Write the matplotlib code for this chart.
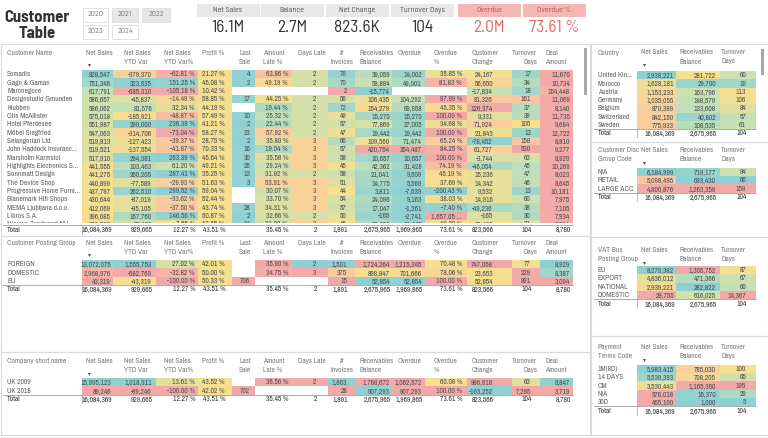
import numpy as np
import matplotlib
matplotlib.use("Agg")
import matplotlib.pyplot as plt
from matplotlib.patches import Rectangle
from matplotlib.colors import LinearSegmentedColormap, Normalize, TwoSlopeNorm
from matplotlib.transforms import Bbox, TransformedBbox

TABLE_FONT = ['Archivo Narrow', 'Liberation Sans Narrow', 'Lato', 'DejaVu Sans']
HEAD_FONT = ['Barlow Semi Condensed', 'Archivo Narrow', 'Lato', 'DejaVu Sans']
plt.rcParams['font.family'] = TABLE_FONT

# ---------------------------------------------------------------- data
years = ['2020', '2021', '2022', '2023', '2024']
years_selected = ['2021', '2022']

kpi_labels = ['Net Sales', 'Balance', 'Net Change', 'Turnover Days', 'Overdue', 'Overdue %']
kpi_values = ['16.1M', '2.7M', '823.6K', '104', '2.0M', '73.61 %']
kpi_alert = [False, False, False, False, True, True]

main_headers = ['Net Sales', 'Net Sales\nYTD Var', 'Net Sales\nYTD Var%', 'Profit %', 'Last\nSale',
                'Amount\nLate %', 'Days Late', '#\nInvoices', 'Receivables\nBalance', 'Overdue',
                'Overdue\n%', 'Customer\nChange', 'Turnover\nDays', 'Deal\nAmount']
main_kinds = ['int', 'int', 'pct', 'pct', 'int', 'pct', 'int', 'int', 'int', 'int', 'pct', 'int', 'int', 'int']

cust_names = ['Somadis', 'Gagn & Gaman', 'Maronegoce', 'Designstudio Gmunden', 'Klubben',
              'Otis McAllister', 'Hotel Pferdesee', 'Möbel Siegfried', 'Selangorian Ltd.',
              'John Haddock Insuranc...', 'Marsholm Karmstol', 'Highlights Electronics S...',
              'Sonnmatt Design', 'The Device Shop', 'Progressive Home Furni...', 'Blanemark Hifi Shops',
              'MEMA Ljubljana d.o.o.', 'Libros S.A.', 'Nieuwe Zandpoort NV']
cust_net_sales = [828547, 751346, 617791, 586657, 586062, 575018, 551987, 547063, 519813, 519521,
                  517910, 441555, 441275, 440899, 437797, 430644, 412069, 396685, 389512]
cust_ytd_var = [-379370, 323535, -685310, -45837, 81576, -185921, 299000, -314706, -127423, -137554,
                294381, 103463, 260205, -77589, 262510, -87019, -95105, 167760, 27331]
cust_ytd_var_pct = [-62.81, 151.25, -105.18, -14.49, 32.34, -48.87, 236.38, -73.04, -39.37, -41.87,
                    263.39, 61.20, 287.41, -29.93, 299.52, -33.62, -37.50, 146.56, 7.55]
cust_profit_pct = [21.27, 45.08, 10.42, 58.85, 44.19, 57.49, 41.21, 58.27, 28.75, 70.33,
                   45.64, 49.21, 35.25, 51.63, 59.04, 52.44, 43.74, 50.87, 43.65]
cust_last_sale = [4, 2, None, 17, None, 10, 2, 23, 2, 16, 30, 25, 13, 3, None, None, 28, 2, 14]
cust_amount_late_pct = [63.86, 49.19, None, 44.25, 19.44, 25.32, 22.44, 57.92, 35.80, 19.04,
                        35.58, 29.24, 31.92, 53.91, 30.07, 33.70, 34.31, 32.66, 31.28]
cust_days_late = [2, 2, None, 2, 2, 2, 2, 2, 3, 3, 3, 3, 2, 3, 3, 3, 3, 2, 3]
cust_invoices = [76, 70, 2, 56, 72, 49, 57, 47, 66, 57, 58, 45, 58, 51, 44, 54, 57, 50, 45]
cust_receivables = [39059, 59884, -15774, 106435, 154279, 15270, 77869, 19442, 109560, 420754,
                    10657, 42362, 21041, 14775, 3811, 24096, 17047, -165, 23158]
cust_overdue = [14002, 49001, None, 104292, 69958, 15270, 27005, 19442, 71474, 354487,
                10657, 31428, 9509, 5569, -7639, 9163, -1261, -2741, 11437]
cust_overdue_pct = [35.85, 81.83, None, 97.99, 45.35, 100.00, 34.68, 100.00, 65.24, 84.25,
                    100.00, 74.19, 45.19, 37.69, -200.43, 38.03, -7.40, 1657.05, 49.39]
cust_change = [24167, 56650, -17834, 81326, 126374, 9331, 71924, 21843, -78452, 61727,
               -3744, -46054, 15236, 14342, 9532, 14916, -49236, -165, 22403]
cust_turnover = [17, 34, 18, 161, 37, 39, 105, 13, 158, 530, 63, 45, 47, 46, 13, 60, 38, 30, 71]
cust_deal = [11670, 10734, 154448, 11069, 8140, 11735, 9684, 12722, 8810, 9277,
             8929, 10269, 8023, 8645, 10181, 7975, 7105, 7934, 8744]

grand_total = [16084369, 929665, 12.27, 43.51, None, 35.45, 2, 1891, 2675965, 1969865, 73.61, 823566, 104, 8780]

pg_names = ['FOREIGN', 'DOMESTIC', 'EU']
pg_net_sales = [13072075, 2968976, 43319]
pg_ytd_var = [1555753, -582769, -43319]
pg_ytd_var_pct = [27.02, -32.82, -100.00]
pg_profit_pct = [42.01, 50.00, 50.33]
pg_last_sale = [None, None, 706]
pg_amount_late_pct = [35.90, 34.75, None]
pg_days_late = [2, 3, None]
pg_invoices = [1501, 375, 15]
pg_receivables = [1724264, 898847, 52854]
pg_overdue = [1215345, 701666, 52854]
pg_overdue_pct = [70.48, 78.06, 100.00]
pg_change = [747058, 23653, 52854]
pg_turnover = [77, 229, 891]
pg_deal = [8929, 8387, 3094]

co_names = ['UK 2009', 'UK 2018']
co_net_sales = [15995123, 89246]
co_ytd_var = [1018911, -89246]
co_ytd_var_pct = [13.61, -100.00]
co_profit_pct = [43.52, 42.02]
co_last_sale = [None, 702]
co_amount_late_pct = [36.56, None]
co_days_late = [2, None]
co_invoices = [1863, 28]
co_receivables = [1768672, 907293]
co_overdue = [1062572, 907293]
co_overdue_pct = [60.08, 100.00]
co_change = [986818, -163252]
co_turnover = [63, 7295]
co_deal = [8847, 3719]

side_headers = ['Net Sales', 'Receivables\nBalance', 'Turnover\nDays']
side_total = [16084369, 2675965, 104]

country_names = ['United Kin...', 'Morocco', 'Austria', 'Germany', 'Belgium', 'Switzerland', 'Sweden']
country_net_sales = [2938221, 1628181, 1153233, 1035055, 870399, 842150, 775933]
country_receivables = [281722, 29700, 163796, 148579, 133608, 40802, 108535]
country_turnover = [60, 19, 113, 106, 84, 57, 61]

disc_names = ['N/A', 'RETAIL', 'LARGE ACC']
disc_net_sales = [6184999, 5098495, 4800876]
disc_receivables = [719177, 693430, 1263359]
disc_turnover = [94, 66, 159]

vat_names = ['EU', 'EXPORT', 'NATIONAL', 'DOMESTIC']
vat_net_sales = [8279382, 4836012, 2939221, 29755]
vat_receivables = [1305752, 471366, 282822, 616025]
vat_turnover = [87, 67, 60, 14367]

pay_names = ['1M(8D)', '14 DAYS', 'CM', 'N/A', '30D']
pay_net_sales = [5983415, 5539393, 3530443, 576018, 455100]
pay_receivables = [785030, 708205, 1165360, 16370, 1000]
pay_turnover = [100, 65, 195, 29, 5]

# ---------------------------------------------------------------- style
PINK, ORANGE, YELLOW, GREEN, TEAL = '#f4a9a9', '#f9cc9f', '#f6df8e', '#c4e0b6', '#8fd1d3'
CMAP = LinearSegmentedColormap.from_list('pbi', [PINK, ORANGE, YELLOW, GREEN, TEAL])
FS = 5.4
TXT = '#4a4f55'
HDR = '#7a7a7a'
NAMEC = '#606060'
BORDER = '#dadada'

# conditional-format scales (lo, hi, reversed, center) per column
main_specs = [(0, 830000, False, None), (-685310, 323535, False, None), (-70, 160, False, 0),
              (-400, 500, False, None), (0, 700, True, None), (10, 75, True, None), (1, 4, True, None),
              (10, 78, False, None), (-15774, 420754, True, 120000), (-7639, 354487, True, 200000),
              (-10, 90, True, 40), (-80000, 126374, True, 30000), (0, 200, True, 100),
              (0, 2000000, False, None)]
pg_specs = [(2000000, 13072075, False, None), (-582769, 1555753, False, -43319), (-40, 80, False, 0),
            (-400, 500, False, None), (0, 700, True, None), (0, 36, True, None), (2, 3, True, None),
            (15, 1501, False, None), (52854, 1724264, True, None), (52854, 1215345, True, None),
            (40, 100, True, None), (-700000, 747058, True, 38000), (0, 160, True, 80),
            (3094, 8929, False, None)]
co_specs = [(89246, 15995123, False, None), (-89246, 1018911, False, None), (-40, 80, False, 0),
            (-400, 500, False, None), (0, 700, True, None), (0, 36, True, None), (0, 2, True, None),
            (28, 1863, False, None), (907293, 1768672, True, None), (0, 907293, True, None),
            (20, 100, True, None), (-163252, 986818, True, None), (0, 160, True, 80),
            (3719, 8847, False, None)]
country_specs = [(0, 2938221, False, None), (0, 560000, True, None), (0, 220, True, None)]
disc_specs = [(4800876, 6184999, False, None), (693430, 1263359, True, None), (66, 159, True, None)]
vat_specs = [(29755, 8279382, False, None), (282822, 1305752, True, None), (30, 150, True, None)]
pay_specs = [(455100, 5983415, False, None), (1000, 1165360, True, None), (5, 195, True, None)]

# column geometry: header x, header align, value right edge, cell left, cell right
MAIN_GEOM = [(86, 'left', 111, 82, 113), (124, 'left', 152, 113, 156), (164, 'left', 195, 156, 198),
             (202, 'left', 225, 198, 232), (251, 'right', 250, 232, 255), (263, 'left', 288, 255, 292),
             (298, 'left', 316, 292, 328), (342, 'center', 347, 328, 355), (359, 'left', 390, 355, 392),
             (398, 'left', 422, 392, 425), (434, 'left', 462, 425, 467), (472, 'left', 493, 467, 512),
             (537, 'right', 531, 512, 540), (545, 'left', 570, 540, 573)]
SIDE_GEOM = [(641, 'left', 674, 637, 676), (680, 'left', 716, 676, 720), (721, 'left', 746, 720, 756)]

fig = plt.figure(figsize=(7.68, 4.38), dpi=100)
ax = fig.add_axes([0, 0, 1, 1])
ax.set_xlim(0, 768)
ax.set_ylim(438, 0)
ax.axis('off')


def fmt(v, kind):
    if v is None:
        return ''
    if kind == 'pct':
        s = f"{v:,.2f} %"
        if len(s) > 9:
            s = s[:-2] + ' ...'
        return s
    return f"{v:,.0f}"


def cell_color(v, spec):
    lo, hi, rev, c = spec
    n = TwoSlopeNorm(vcenter=c, vmin=lo, vmax=hi) if c is not None else Normalize(lo, hi, clip=True)
    t = float(np.clip(n(v), 0, 1))
    if rev:
        t = 1 - t
    return CMAP(t)


def header(x, y, text, ha, color=HDR, fs=FS):
    for k, line in enumerate(text.split('\n')):
        ax.text(x, y + k * 9, line, ha=ha, va='center', fontsize=fs, color=color)


def draw_table(name_hdr, names, headers, columns, kinds, specs, totals, geom,
               name_x, head_y, row0, row_h, total_y, clip_y=None):
    header(name_x, head_y, name_hdr, 'left')
    for (hx, hal, vr, bl, br), h in zip(geom, headers):
        header(hx, head_y, h, hal)
    hx0 = geom[0][0]
    ax.plot([hx0 + 2.5], [head_y + 12.5], marker='v', ms=2.2, color='#555555', mew=0)
    clipbox = None
    if clip_y is not None:
        clipbox = TransformedBbox(Bbox([[0, row0 - 5], [590, clip_y]]), ax.transData)
    arts = []
    for i, nm in enumerate(names):
        y = row0 + i * row_h
        arts.append(ax.text(name_x, y, nm, ha='left', va='center', fontsize=FS, color=NAMEC))
        for (hx, hal, vr, bl, br), vals, kind, spec in zip(geom, columns, kinds, specs):
            v = vals[i]
            if v is None:
                continue
            r = Rectangle((bl, y - row_h / 2), br - bl, row_h, facecolor=cell_color(v, spec),
                          edgecolor='none', lw=0, zorder=1)
            ax.add_patch(r)
            arts.append(r)
            arts.append(ax.text(vr, y, fmt(v, kind), ha='right', va='center', fontsize=FS,
                                color=TXT, zorder=3))
    if clipbox is not None:
        for a in arts:
            a.set_clip_box(clipbox)
            a.set_clip_on(True)
    x_end = geom[-1][4]
    ax.plot([name_x - 4, x_end], [total_y - 4.5, total_y - 4.5], color='#8a8a8a', lw=0.5, zorder=4)
    sep_x = geom[0][3] - 0.5
    ax.plot([sep_x, sep_x], [total_y - 4, total_y + 4], color='#9a9a9a', lw=0.5, zorder=4)
    ax.text(name_x, total_y, 'Total', ha='left', va='center', fontsize=FS,
            color='#333333', fontweight='bold')
    for (hx, hal, vr, bl, br), v, kind in zip(geom, totals, kinds):
        if v is not None:
            ax.text(vr + 1, total_y, fmt(v, kind), ha='right', va='center', fontsize=FS,
                    color='#333333', fontweight='bold')


# ---------------------------------------------------------------- panels
for (x, y, w, h) in [(0.5, 44, 589, 192), (0.5, 236, 589, 116), (0.5, 352, 589, 83),
                     (591, 44, 176.5, 98), (591, 142, 176.5, 95), (591, 237, 176.5, 99),
                     (591, 336, 176.5, 99)]:
    ax.add_patch(Rectangle((x, y), w, h, facecolor='white', edgecolor=BORDER, lw=0.8, zorder=0))

# title
ax.text(37, 17, 'Customer', ha='center', va='center', fontsize=12, fontweight='bold',
        color='#333333', family=HEAD_FONT)
ax.text(37, 33, 'Table', ha='center', va='center', fontsize=12, fontweight='bold',
        color='#333333', family=HEAD_FONT)

# year slicer
year_pos = [(83, 7.5, 25), (112, 7.5, 26), (142, 7.5, 28), (83, 24.5, 25), (112, 24.5, 26)]
for yr, (x, y, w) in zip(years, year_pos):
    sel = yr in years_selected
    ax.add_patch(Rectangle((x, y), w, 14.5, facecolor='#e7e7e7' if sel else 'white',
                           edgecolor='#dddddd', lw=0.6, zorder=1))
    ax.text(x + w / 2, y + 7.4, yr, ha='center', va='center', fontsize=5.8, color='#7a7a7a',
            family=HEAD_FONT, zorder=2)

# KPI cards
kpi_x = [228, 292, 357, 422, 489, 554]
for lab, val, alert, cx in zip(kpi_labels, kpi_values, kpi_alert, kpi_x):
    ax.add_patch(Rectangle((cx - 31.5, 3.5), 63, 13.5, facecolor='#f5b6b6' if alert else '#e8e8e8',
                           edgecolor='none', zorder=1))
    ax.text(cx, 10.3, lab, ha='center', va='center', fontsize=5.8,
            color='#c0504d' if alert else '#555555', family=HEAD_FONT, zorder=2)
    ax.text(cx, 27.5, val, ha='center', va='center', fontsize=12.5,
            color='#e06a6a' if alert else '#333333', family=HEAD_FONT, zorder=2)

# ---------------------------------------------------------------- tables
main_cols = [cust_net_sales, cust_ytd_var, cust_ytd_var_pct, cust_profit_pct, cust_last_sale,
             cust_amount_late_pct, cust_days_late, cust_invoices, cust_receivables, cust_overdue,
             cust_overdue_pct, cust_change, cust_turnover, cust_deal]
draw_table('Customer Name', cust_names, main_headers, main_cols, main_kinds, main_specs, grand_total,
           MAIN_GEOM, 7, 52.7, 74.3, 8.33, 229.5, clip_y=223.2)

pg_cols = [pg_net_sales, pg_ytd_var, pg_ytd_var_pct, pg_profit_pct, pg_last_sale, pg_amount_late_pct,
           pg_days_late, pg_invoices, pg_receivables, pg_overdue, pg_overdue_pct, pg_change,
           pg_turnover, pg_deal]
draw_table('Customer Posting Group', pg_names, main_headers, pg_cols, main_kinds, pg_specs, grand_total,
           MAIN_GEOM, 7, 242.7, 264.3, 8.3, 289.3)

co_cols = [co_net_sales, co_ytd_var, co_ytd_var_pct, co_profit_pct, co_last_sale, co_amount_late_pct,
           co_days_late, co_invoices, co_receivables, co_overdue, co_overdue_pct, co_change,
           co_turnover, co_deal]
draw_table('Company short name', co_names, main_headers, co_cols, main_kinds, co_specs, grand_total,
           MAIN_GEOM, 7, 361, 382.3, 8.3, 399)

side_kinds = ['int', 'int', 'int']
draw_table('Country', country_names, side_headers,
           [country_net_sales, country_receivables, country_turnover], side_kinds, country_specs,
           side_total, SIDE_GEOM, 598, 52.5, 75.2, 8.3, 133.3)
draw_table('Customer Disc\nGroup Code', disc_names, side_headers,
           [disc_net_sales, disc_receivables, disc_turnover], side_kinds, disc_specs,
           side_total, SIDE_GEOM, 598, 150.3, 172, 8.3, 197)
draw_table('VAT Bus\nPosting Group', vat_names, side_headers,
           [vat_net_sales, vat_receivables, vat_turnover], side_kinds, vat_specs,
           side_total, SIDE_GEOM, 598, 250, 270.2, 8.3, 303.6)
draw_table('Payment\nTerms Code', pay_names, side_headers,
           [pay_net_sales, pay_receivables, pay_turnover], side_kinds, pay_specs,
           side_total, SIDE_GEOM, 598, 347.3, 369, 8.3, 410.6)

# scrollbars
ax.add_patch(Rectangle((583.5, 47.5), 3.5, 47, facecolor='#a8a8a8', edgecolor='none', zorder=5))
ax.add_patch(Rectangle((760.5, 49), 3.2, 26, facecolor='#a8a8a8', edgecolor='none', zorder=5))

fig.savefig('out.png', dpi=100)
